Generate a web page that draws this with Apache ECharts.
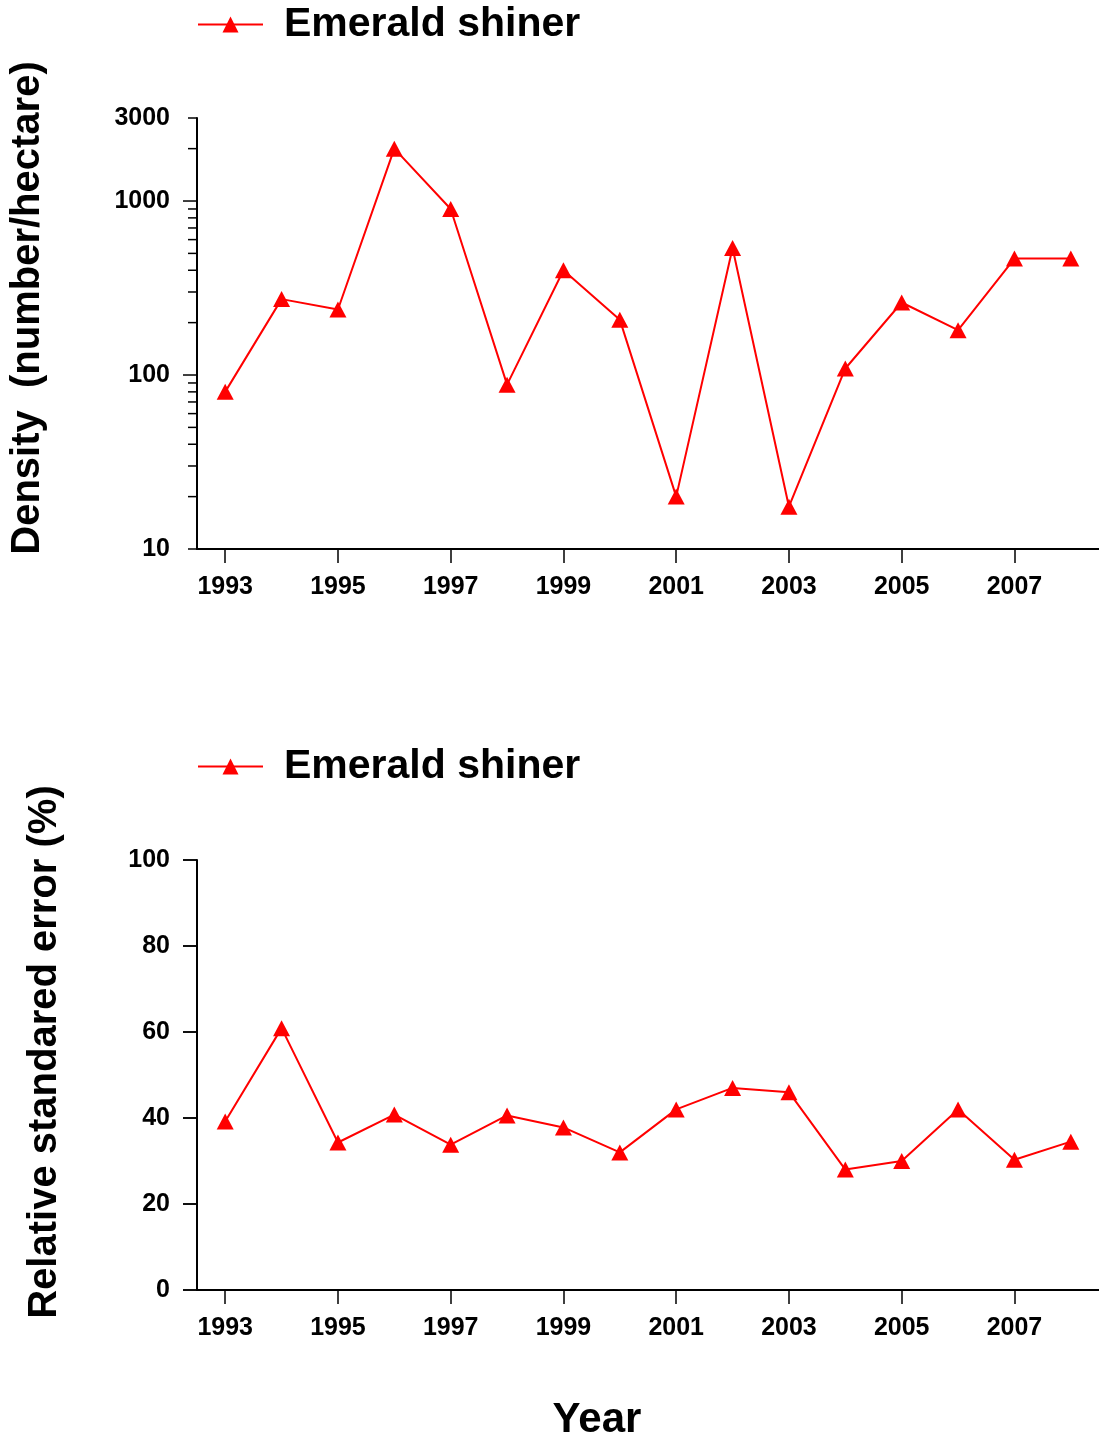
<!DOCTYPE html>
<html>
<head>
<meta charset="utf-8">
<script src="https://cdn.jsdelivr.net/npm/echarts@6/dist/echarts.min.js"></script>
<style>
html,body{margin:0;padding:0;background:#fff;}
#chart{width:1099px;height:1441px;}
</style>
</head>
<body>
<div id="chart"></div>
<script>
const years = ['1993','1994','1995','1996','1997','1998','1999','2000','2001','2002','2003','2004','2005','2006','2007','2008'];
const seriesName = 'Emerald shiner';
const densityValues = [80, 273, 238, 2000, 900, 88, 400, 208, 20, 537, 17.5, 109, 261, 181, 467, 467];
const rseValues = [39.2, 60.9, 34.3, 40.8, 33.8, 40.6, 37.8, 32.0, 42.0, 47.0, 46.0, 28.0, 30.0, 42.0, 30.3, 34.5];
const densityMajorTicks = [100, 1000];
const densityMinorTicks = [10, 20, 30, 40, 50, 60, 70, 80, 90, 200, 300, 400, 500, 600, 700, 800, 900, 2000, 3000];
const densityTickLabels = [10, 100, 1000, 3000];
const rseTicks = [0, 20, 40, 60, 80, 100];
const densityTitle = 'Density  (number/hectare)';
const rseTitle = 'Relative standared error (%)';
const xTitle = 'Year';

const FONT = '"Liberation Sans", Arial, sans-serif';
const RED = '#ff0000';
const GRID_LEFT = 197;
const MAJOR_LEN = 14;
const MINOR_LEN = 9;

const chart = echarts.init(document.getElementById('chart'), null, {renderer: 'canvas'});

function xAxisFor(gridIndex) {
  return {
    type: 'category', gridIndex: gridIndex, data: years, boundaryGap: true,
    axisLine: {lineStyle: {color: '#000', width: 2}},
    axisTick: {show: true, interval: 1, alignWithLabel: true, length: 14, lineStyle: {color: '#000', width: 1.5}},
    axisLabel: {interval: 1, margin: 26, color: '#000', fontFamily: FONT, fontWeight: 'bold', fontSize: 25},
    splitLine: {show: false}
  };
}

const seriesCommon = {
  type: 'line', name: seriesName, symbol: 'triangle', symbolSize: [17, 16],
  lineStyle: {color: RED, width: 2}, itemStyle: {color: RED}, animation: false
};

const legendText = {fontFamily: FONT, fontWeight: 'bold', fontSize: 41, color: '#000', padding: [0, 0, 0, 16]};

const option = {
  animation: false,
  grid: [
    {left: GRID_LEFT, top: 118, width: 902, height: 431},
    {left: GRID_LEFT, top: 860, width: 902, height: 430}
  ],
  legend: [
    {left: GRID_LEFT, top: 4, padding: 0, itemWidth: 65, itemHeight: 20, data: [seriesName], textStyle: legendText},
    {left: GRID_LEFT, top: 746, padding: 0, itemWidth: 65, itemHeight: 20, data: [seriesName], textStyle: legendText}
  ],
  xAxis: [xAxisFor(0), xAxisFor(1)],
  yAxis: [
    {type: 'log', logBase: 10, gridIndex: 0, min: 10, max: 3000,
     axisLine: {show: true, lineStyle: {color: '#000', width: 2}},
     axisTick: {show: false},
     axisLabel: {customValues: densityTickLabels, margin: 27, color: '#000', fontFamily: FONT, fontWeight: 'bold', fontSize: 25,
                 formatter: function (v) { return String(Math.round(v)); }},
     splitLine: {show: false}},
    {type: 'value', gridIndex: 1, min: 0, max: 100, interval: 20,
     axisLine: {show: true, lineStyle: {color: '#000', width: 2}},
     axisTick: {show: true, length: MAJOR_LEN, lineStyle: {color: '#000', width: 1.5}},
     axisLabel: {margin: 27, color: '#000', fontFamily: FONT, fontWeight: 'bold', fontSize: 25},
     splitLine: {show: false}},
    {type: 'value', gridIndex: 1, position: 'left', offset: 0, min: 0, max: 100, interval: 20,
     axisLine: {show: false},
     axisTick: {show: true, length: MAJOR_LEN, lineStyle: {color: '#000', width: 1.5}},
     axisLabel: {show: false},
     splitLine: {show: false}}
  ],
  series: [
    Object.assign({}, seriesCommon, {xAxisIndex: 0, yAxisIndex: 0, data: densityValues}),
    Object.assign({}, seriesCommon, {xAxisIndex: 1, yAxisIndex: 1, data: rseValues})
  ],
  graphic: [
    {type: 'text', x: 28, y: 308, rotation: Math.PI / 2,
     style: {text: densityTitle, fill: '#000', font: 'bold 40px ' + FONT, align: 'center', verticalAlign: 'middle'}},
    {type: 'text', x: 45, y: 1052, rotation: Math.PI / 2,
     style: {text: rseTitle, fill: '#000', font: 'bold 40px ' + FONT, align: 'center', verticalAlign: 'middle'}},
    {type: 'text', x: 597, y: 1420,
     style: {text: xTitle, fill: '#000', font: 'bold 42px ' + FONT, align: 'center', verticalAlign: 'middle'}}
  ]
};
chart.setOption(option);

// y-axis ticks positioned through the chart's own scales
const tickGraphics = [];
function tickLine(py, len) {
  tickGraphics.push({type: 'line', silent: true, z: 100,
    shape: {x1: GRID_LEFT - len, y1: py, x2: GRID_LEFT, y2: py},
    style: {stroke: '#000', lineWidth: 1.5}});
}
densityMajorTicks.forEach(function (v) { tickLine(chart.convertToPixel({yAxisIndex: 0}, v), MAJOR_LEN); });
densityMinorTicks.forEach(function (v) { tickLine(chart.convertToPixel({yAxisIndex: 0}, v), MINOR_LEN); });
rseTicks.forEach(function (v) {
  const p = chart.convertToPixel({gridIndex: 1}, [0, v]);
  if (p && isFinite(p[1])) { tickLine(p[1], MAJOR_LEN); }
});
chart.setOption({graphic: option.graphic.concat(tickGraphics)});
</script>
</body>
</html>
